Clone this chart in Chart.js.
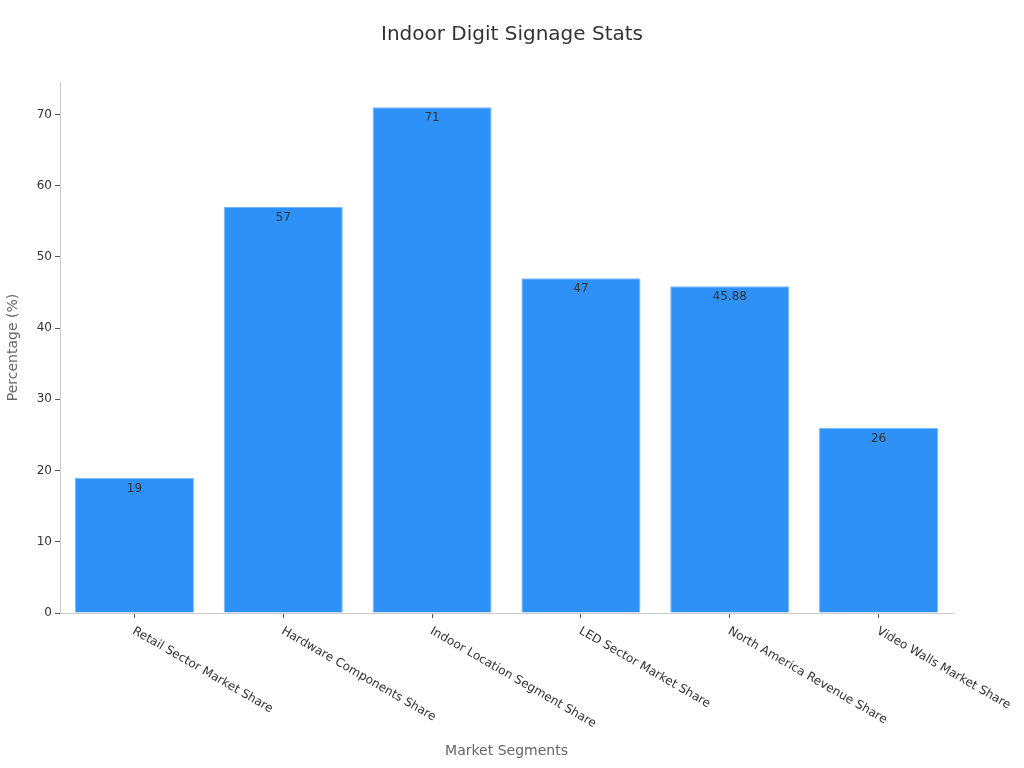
<!DOCTYPE html>
<html lang="en">

<head>
    <meta charset="UTF-8">
    <title>Indoor Digit Signage Stats</title>
    <script src="https://cdn.jsdelivr.net/npm/chart.js"></script>
    <style>
        html,
        body {
            margin: 0;
            padding: 0;
            background-color: #ffffff;
        }

        .chart-box {
            width: 1024px;
            height: 768px;
        }
    </style>
</head>

<body>
    <div class="chart-box">
        <canvas id="segments"></canvas>
    </div>

    <script>
        const segments = [
            'Retail Sector Market Share',
            'Hardware Components Share',
            'Indoor Location Segment Share',
            'LED Sector Market Share',
            'North America Revenue Share',
            'Video Walls Market Share'
        ];
        const shares = [19, 57, 71, 47, 45.88, 26];
        const yTicks = [0, 10, 20, 30, 40, 50, 60, 70];

        const FONT = "'DejaVu Sans', sans-serif";

        // value text just inside the top of each bar
        const barValues = {
            id: 'barValues',
            afterDatasetsDraw(chart) {
                const ctx = chart.ctx;
                const meta = chart.getDatasetMeta(0);
                ctx.save();
                ctx.font = `12px ${FONT}`;
                ctx.fillStyle = '#333333';
                ctx.textAlign = 'center';
                ctx.textBaseline = 'middle';
                meta.data.forEach((bar, i) => {
                    ctx.fillText(String(shares[i]), bar.x, bar.y + 11);
                });
                ctx.restore();
            }
        };

        // category labels hang down to the right from each tick
        const slantedLabels = {
            id: 'slantedLabels',
            afterDraw(chart) {
                const ctx = chart.ctx;
                const xs = chart.scales.x;
                ctx.save();
                ctx.font = `12px ${FONT}`;
                ctx.fillStyle = '#333333';
                ctx.textAlign = 'left';
                ctx.textBaseline = 'top';
                segments.forEach((label, i) => {
                    const x = xs.getPixelForTick(i);
                    ctx.save();
                    ctx.translate(x + 2, xs.top + 12);
                    ctx.rotate(30 * Math.PI / 180);
                    ctx.fillText(label, 0, 0);
                    ctx.restore();
                });
                ctx.restore();
            }
        };

        new Chart(document.getElementById('segments'), {
            type: 'bar',
            data: {
                labels: segments,
                datasets: [{
                    label: 'Percentage (%)',
                    data: shares,
                    backgroundColor: '#2e91f7',
                    borderColor: '#79b8f8',
                    borderWidth: 1,
                    barPercentage: 0.8,
                    categoryPercentage: 1
                }]
            },
            options: {
                responsive: true,
                maintainAspectRatio: false,
                animation: false,
                layout: {
                    padding: { top: 10, right: 0, bottom: 8, left: 0 }
                },
                plugins: {
                    legend: { display: false },
                    tooltip: { enabled: false },
                    title: {
                        display: true,
                        text: 'Indoor Digit Signage Stats',
                        color: '#333333',
                        font: { family: FONT, size: 20, weight: 'normal' },
                        padding: { top: 13, bottom: 35 }
                    }
                },
                scales: {
                    x: {
                        afterFit: s => { s.height = 147; },
                        ticks: { display: false },
                        grid: {
                            display: true,
                            drawOnChartArea: false,
                            drawTicks: true,
                            tickLength: 5,
                            offset: false,
                            color: '#555555'
                        },
                        border: { color: '#cccccc' },
                        title: {
                            display: true,
                            text: 'Market Segments',
                            color: '#666666',
                            font: { family: FONT, size: 14 },
                            padding: { top: 0, bottom: 0 }
                        }
                    },
                    y: {
                        min: 0,
                        max: 74.55,
                        afterFit: s => { s.width = 60; },
                        afterBuildTicks: s => { s.ticks = yTicks.map(v => ({ value: v })); },
                        ticks: {
                            stepSize: 10,
                            includeBounds: false,
                            padding: 3,
                            color: '#333333',
                            font: { family: FONT, size: 12 }
                        },
                        grid: {
                            display: true,
                            drawOnChartArea: false,
                            drawTicks: true,
                            tickLength: 5,
                            color: '#555555'
                        },
                        border: { color: '#cccccc' },
                        title: {
                            display: true,
                            text: 'Percentage (%)',
                            color: '#666666',
                            font: { family: FONT, size: 14 },
                            padding: { top: 5, bottom: 0 }
                        }
                    },
                    // empty right margin so the title stays centred on the page
                    spacer: {
                        type: 'linear',
                        position: 'right',
                        afterFit: s => { s.width = 71; },
                        ticks: { display: false },
                        grid: { display: false },
                        border: { display: false }
                    }
                }
            },
            plugins: [barValues, slantedLabels]
        });
    </script>
</body>

</html>
